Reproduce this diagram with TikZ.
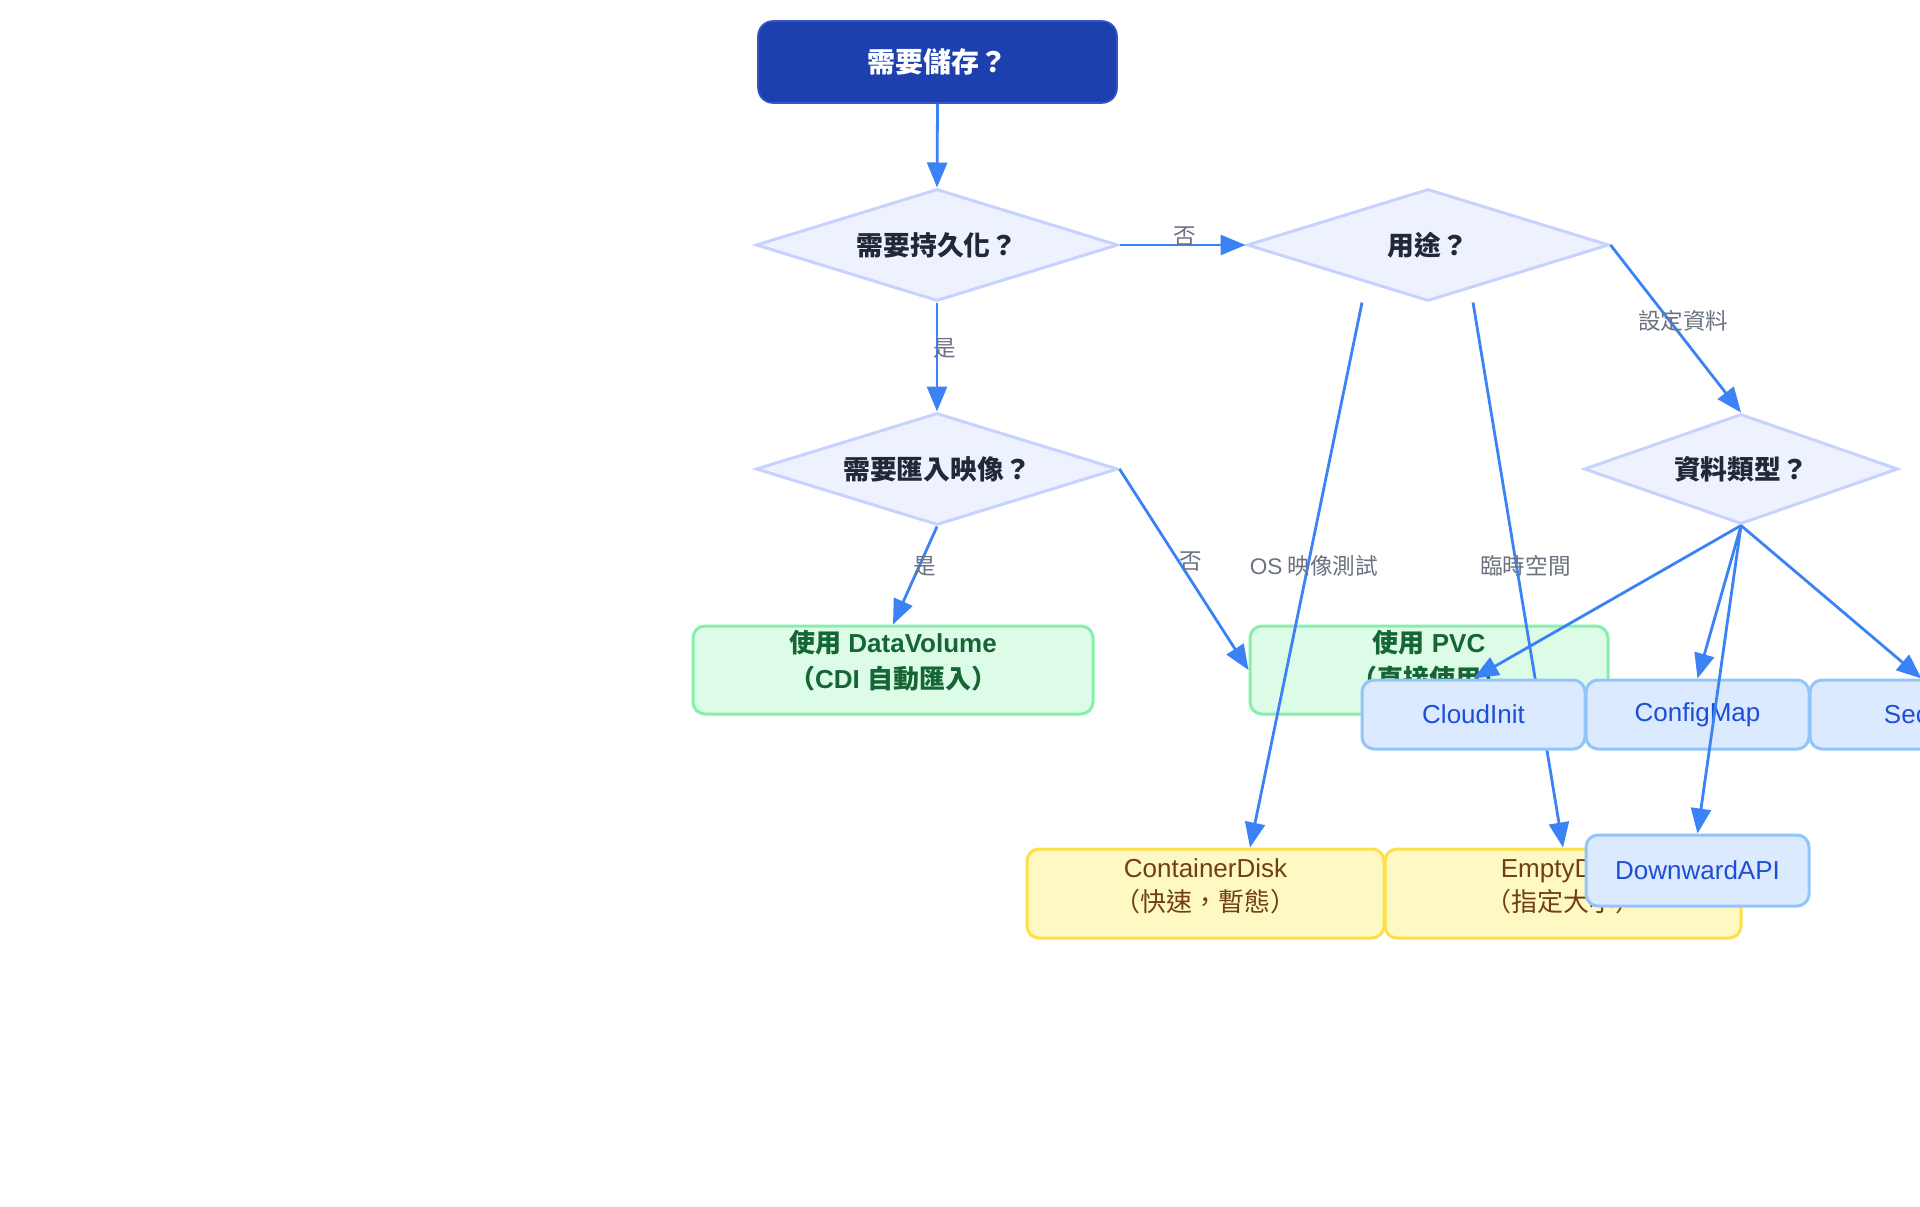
\documentclass[tikz,border=0pt]{standalone}
\usepackage{fontspec}
\setmainfont{Liberation Sans}
\newfontfamily\lat{Liberation Sans}
\newfontfamily\cjk{Noto Sans CJK TC}
\usetikzlibrary{shapes.geometric,arrows.meta,calc}
\pgfdeclarelayer{fg}
\pgfsetlayers{main,fg}
\definecolor{arrowc}{HTML}{3B82F6}
\definecolor{topfill}{HTML}{1E40AF}
\definecolor{topdraw}{HTML}{3457C8}
\definecolor{dfill}{HTML}{EEF2FF}
\definecolor{ddraw}{HTML}{C7D2FE}
\definecolor{dtext}{HTML}{1F2937}
\definecolor{gfill}{HTML}{DCFCE7}
\definecolor{gdraw}{HTML}{86EFAC}
\definecolor{gtext}{HTML}{166534}
\definecolor{yfill}{HTML}{FEF9C3}
\definecolor{ydraw}{HTML}{FDE047}
\definecolor{ytext}{HTML}{713F12}
\definecolor{bfill}{HTML}{DBEAFE}
\definecolor{bdraw}{HTML}{93C5FD}
\definecolor{btext}{HTML}{1D4ED8}
\definecolor{ltext}{HTML}{6B7280}
\begin{document}
\begin{tikzpicture}[x=0.5pt,y=-0.5pt,
  topbox/.style={rectangle, rounded corners=7.5pt, fill=topfill, draw=topdraw, line width=0.8pt,
    minimum width=179.5pt, minimum height=41pt, inner sep=0pt, text=white,
    font=\cjk\bfseries\fontsize{14pt}{17pt}\selectfont},
  decision/.style={diamond, aspect=3.2, fill=dfill, draw=ddraw, line width=1.5pt,
    minimum width=181pt, minimum height=56pt, inner sep=0pt, text=dtext,
    font=\cjk\bfseries\fontsize{13.4pt}{16pt}\selectfont},
  box/.style={rectangle, rounded corners=6pt, line width=1.5pt, inner sep=0pt},
  greenbox/.style={box, fill=gfill, draw=gdraw},
  yellowbox/.style={box, fill=yfill, draw=ydraw},
  bluebox/.style={box, fill=bfill, draw=bdraw, minimum width=111.5pt, minimum height=34.5pt,
    text=btext, font=\fontsize{13pt}{16pt}\selectfont},
  gtxt/.style={align=center, inner sep=0pt, text=gtext, font=\bfseries\fontsize{13pt}{18pt}\selectfont},
  ytxt/.style={align=center, inner sep=0pt, text=ytext, font=\fontsize{13pt}{17pt}\selectfont},
  elabel/.style={inner sep=0pt, text=ltext, font=\cjk\fontsize{11.3pt}{13pt}\selectfont},
  arr/.style={draw=arrowc, line width=1.4pt, -{Triangle[length=12.5pt,width=10pt]}}
]
\useasboundingbox (0,0) rectangle (1920,1206);
\clip (0,0) rectangle (1920,1206);
\fill[white] (0,0) rectangle (1920,1206);

% main nodes
\node[topbox] (top) at (937.5,62) {需要儲存？};
\node[decision] (d1) at (937,245) {需要持久化？};
\node[decision] (d2) at (1428,245) {用途？};
\node[decision] (d3) at (937,469) {需要匯入映像？};
\node[decision, minimum width=157pt, minimum height=55pt] (d4) at (1741,469) {資料類型？};

\node[greenbox, minimum width=200pt, minimum height=44pt] (DV) at (893,670) {};
\node[gtxt] (DVt) at (893,661) {{\cjk 使用} DataVolume\\{\cjk （}CDI {\cjk 自動匯入）}};
\node[greenbox, minimum width=179pt, minimum height=44pt] (PVC) at (1429,670) {};
\node[gtxt] (PVCt) at (1429,661) {{\cjk 使用} PVC\\{\cjk （直接使用）}};

\node[yellowbox, minimum width=178.5pt, minimum height=44.5pt] (CD) at (1205.5,893.5) {};
\node[ytxt] (CDt) at (1205.5,886) {ContainerDisk\\{\cjk （快速，暫態）}};
\node[yellowbox, minimum width=178pt, minimum height=44.5pt] (ED) at (1563,893.5) {};
\node[ytxt] (EDt) at (1563,886) {EmptyDisk\\{\cjk （指定大小）}};

\node[bluebox] (CM) at (1697.5,714.5) {ConfigMap};
\node[bluebox] (SE) at (1921.5,714.5) {Secret};

\begin{pgfonlayer}{fg}
\node[bluebox] (CI) at (1473.5,714.5) {CloudInit};
\node[bluebox, minimum height=35.5pt] (DA) at (1697.5,870.5) {DownwardAPI};
\end{pgfonlayer}

% connectors
\coordinate (d2a) at ($(d2.south)+(-66,0)$);
\coordinate (d2b) at ($(d2.south)+(45,0)$);
\coordinate (CDin) at ($(CD.north)+(44.5,0)$);

\draw[arr] (top.south) -- (d1.north);
\draw[arr] (d1.east) -- node[elabel, pos=0.52, yshift=4pt] {否} (d2.west);
\draw[arr] (d1.south) -- node[elabel, pos=0.42, xshift=4pt] {是} (d3.north);
\draw[arr] (d3.south) -- node[elabel, pos=0.41, xshift=3pt] {是} (DV.north);
\draw[arr] (d3.east) -- node[elabel, pos=0.46, xshift=6pt] {否} (PVC.west);
\draw[arr] (d2a) -- node[elabel, pos=0.484, xshift=3pt] {{\lat OS} 映像測試} (CDin);
\draw[arr] (d2b) -- node[elabel, pos=0.484, xshift=4.5pt] {臨時空間} (ED.north);
\draw[arr] (d2.east) -- node[elabel, pos=0.45, xshift=7pt] {設定資料} (d4.north);
\draw[arr] (d4.south) -- (CI.north);
\draw[arr] (d4.south) -- (CM.north);
\draw[arr] (d4.south) -- (SE.north);
\draw[arr] (d4.south) -- (DA.north);
\end{tikzpicture}
\end{document}
